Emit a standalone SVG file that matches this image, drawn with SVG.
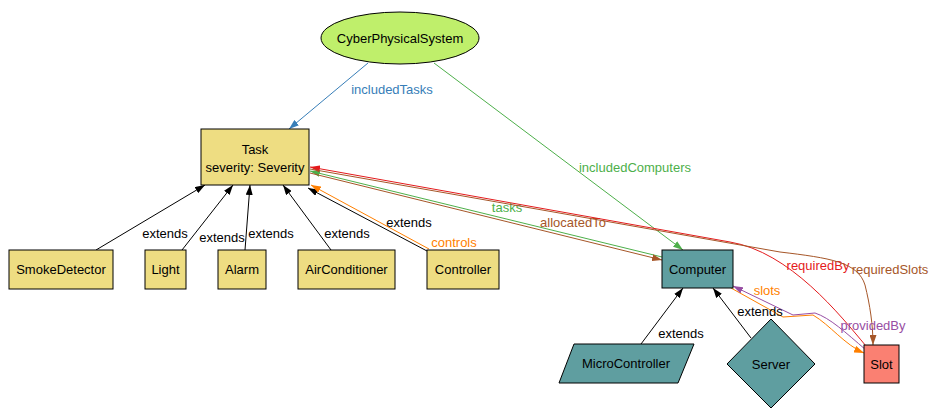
<svg xmlns="http://www.w3.org/2000/svg" width="929" height="410" viewBox="0 0 929 410">
<style>
text{font-family:"Liberation Sans",Arial,sans-serif;font-size:13px;text-anchor:middle}
.n{stroke:#000;stroke-width:1}
.k{fill:#eedd82}
.c{fill:#5f9ea0}
.e{fill:none;stroke-width:1}
</style>
<defs>
<marker id="mk" viewBox="0 0 10 7" refX="10" refY="3.5" markerWidth="10" markerHeight="7" markerUnits="userSpaceOnUse" orient="auto"><path d="M0,0L10,3.5L0,7z" fill="#000"/></marker>
<marker id="mb" viewBox="0 0 10 7" refX="10" refY="3.5" markerWidth="10" markerHeight="7" markerUnits="userSpaceOnUse" orient="auto"><path d="M0,0L10,3.5L0,7z" fill="#377eb8"/></marker>
<marker id="mg" viewBox="0 0 10 7" refX="10" refY="3.5" markerWidth="10" markerHeight="7" markerUnits="userSpaceOnUse" orient="auto"><path d="M0,0L10,3.5L0,7z" fill="#4daf4a"/></marker>
<marker id="mo" viewBox="0 0 10 7" refX="10" refY="3.5" markerWidth="10" markerHeight="7" markerUnits="userSpaceOnUse" orient="auto"><path d="M0,0L10,3.5L0,7z" fill="#ff7f00"/></marker>
<marker id="mr" viewBox="0 0 10 7" refX="10" refY="3.5" markerWidth="10" markerHeight="7" markerUnits="userSpaceOnUse" orient="auto"><path d="M0,0L10,3.5L0,7z" fill="#e41a1c"/></marker>
<marker id="mn" viewBox="0 0 10 7" refX="10" refY="3.5" markerWidth="10" markerHeight="7" markerUnits="userSpaceOnUse" orient="auto"><path d="M0,0L10,3.5L0,7z" fill="#a65628"/></marker>
<marker id="mp" viewBox="0 0 10 7" refX="10" refY="3.5" markerWidth="10" markerHeight="7" markerUnits="userSpaceOnUse" orient="auto"><path d="M0,0L10,3.5L0,7z" fill="#984ea3"/></marker>
</defs>
<rect width="929" height="410" fill="#fff"/>
<g id="connectors">
<path class="e" stroke="#377eb8" marker-end="url(#mb)" d="M368,63L289,129"/>
<text x="392" y="94" fill="#377eb8">includedTasks</text>
<path class="e" stroke="#4daf4a" marker-end="url(#mg)" d="M434,63L683,250"/>
<text x="635" y="172" fill="#4daf4a">includedComputers</text>
<path class="e" stroke="#000" marker-end="url(#mk)" d="M96,250L205,185"/>
<text x="165" y="238">extends</text>
<path class="e" stroke="#000" marker-end="url(#mk)" d="M182,250L233,185"/>
<text x="222" y="242">extends</text>
<path class="e" stroke="#000" marker-end="url(#mk)" d="M245,250L250,185"/>
<text x="271" y="238">extends</text>
<path class="e" stroke="#000" marker-end="url(#mk)" d="M331,250L283,185"/>
<text x="347" y="238">extends</text>
<path class="e" stroke="#000" marker-end="url(#mk)" d="M427,251L308,188"/>
<text x="409" y="227">extends</text>
<path class="e" stroke="#ff7f00" marker-end="url(#mo)" d="M429,249L311,185"/>
<text x="454" y="247" fill="#ff7f00">controls</text>
<path class="e" stroke="#4daf4a" marker-end="url(#mg)" d="M662,257L310,171"/>
<text x="507" y="212" fill="#4daf4a">tasks</text>
<path class="e" stroke="#a65628" marker-end="url(#mn)" d="M310,173L662,260"/>
<text x="573" y="227" fill="#a65628">allocatedTo</text>
<path class="e" stroke="#e41a1c" marker-end="url(#mr)" d="M866,346C840,315 790,252 730,242L310,167"/>
<text x="818" y="270" fill="#e41a1c">requiredBy</text>
<path class="e" stroke="#a65628" marker-end="url(#mn)" d="M310,169L780,252C830,258 858,262 865,285C870,305 873,325 873,345"/>
<text x="890" y="274" fill="#a65628">requiredSlots</text>
<path class="e" stroke="#ff7f00" marker-end="url(#mo)" d="M731,288L783,317L813,315C830,325 845,345 864,353"/>
<text x="767" y="295" fill="#ff7f00">slots</text>
<path class="e" stroke="#984ea3" marker-end="url(#mp)" d="M866,350C845,332 830,318 815,313L793,315L733,286"/>
<text x="873" y="330" fill="#984ea3">providedBy</text>
<path class="e" stroke="#000" marker-end="url(#mk)" d="M641,344L683,288"/>
<text x="681" y="338">extends</text>
<path class="e" stroke="#000" marker-end="url(#mk)" d="M751,338L713,288"/>
<text x="760" y="316">extends</text>
</g>
<g id="CyberPhysicalSystem"><ellipse class="n" cx="400" cy="38" rx="79" ry="26" fill="#bfef6b"/><text x="400" y="43">CyberPhysicalSystem</text></g>
<g id="Task"><rect class="n k" x="201" y="129" width="108" height="56"/><text x="255" y="154">Task</text><text x="255" y="172">severity: Severity</text></g>
<g id="SmokeDetector"><rect class="n k" x="9" y="250" width="104" height="39"/><text x="61" y="274">SmokeDetector</text></g>
<g id="Light"><rect class="n k" x="145" y="250" width="41" height="39"/><text x="165.5" y="274">Light</text></g>
<g id="Alarm"><rect class="n k" x="218" y="250" width="48" height="39"/><text x="242" y="274">Alarm</text></g>
<g id="AirConditioner"><rect class="n k" x="298" y="250" width="97" height="39"/><text x="346.5" y="274">AirConditioner</text></g>
<g id="Controller"><rect class="n k" x="427" y="250" width="72" height="39"/><text x="463" y="274">Controller</text></g>
<g id="Computer"><rect class="n c" x="662" y="250" width="71" height="38"/><text x="697.5" y="274">Computer</text></g>
<g id="MicroController"><polygon class="n c" points="574,344 694,344 678,383 559,383"/><text x="626" y="368">MicroController</text></g>
<g id="Server"><polygon class="n c" points="771,319 815,364 771,408 727,364"/><text x="771" y="369">Server</text></g>
<g id="Slot"><rect class="n" x="864" y="345" width="35" height="38" fill="#fa8072"/><text x="881.5" y="369">Slot</text></g>
</svg>
